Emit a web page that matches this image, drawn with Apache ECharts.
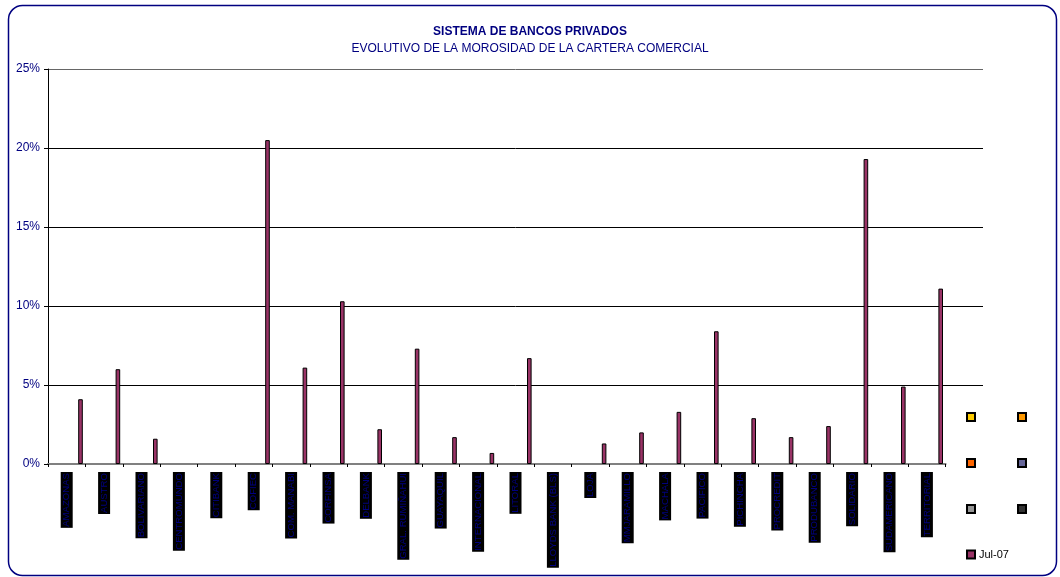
<!DOCTYPE html>
<html>
<head>
<meta charset="utf-8">
<script src="https://cdn.jsdelivr.net/npm/echarts@6/dist/echarts.min.js"></script>
<style>html,body{margin:0;padding:0;background:#fff;}#c{width:1060px;height:577px;}</style>
</head>
<body>
<div id="c"></div>
<script>
const categories = ['AMAZONAS','AUSTRO','BOLIVARIANO','CENTROMUNDO','CITIBANK','COFIEC','COM. MANABI','CORFINSA','DELBANK','GRAL. RUMIÑAHUI','GUAYAQUIL','INTERNACIONAL','LITORAL','LLOYDS BANK (BLS)','LOJA','MMJARAMILLO','MACHALA','PACIFICO','PICHINCHA','PROCREDIT','PRODUBANCO','SOLIDARIO','SUDAMERICANO','TERRITORIAL'];
const jul07 = [4.1, 6.0, 1.6, null, null, 20.5, 6.1, 10.3, 2.2, 7.3, 1.7, 0.7, 6.7, null, 1.3, 2.0, 3.3, 8.4, 2.9, 1.7, 2.4, 19.3, 4.9, 11.1];
const emptySeriesNames = ['s1','s2','s3','s4','s5','s6'];
const emptySeriesColors = ['#FFCC00','#FF9900','#FF6600','#666699','#969696','#333333'];
const yTicks = [0, 5, 10, 15, 20, 25];

const chart = echarts.init(document.getElementById('c'));
const font = 'Arial, "Liberation Sans", sans-serif';
const navy = '#000080';

const series = emptySeriesNames.map((n, i) => ({
  name: n, type: 'bar', data: [], barWidth: 4.6, barGap: '0%',
  itemStyle: { color: emptySeriesColors[i], borderColor: '#000', borderWidth: 1 }
}));
series.push({
  name: 'Jul-07', type: 'bar', data: jul07, barWidth: 4.6, barGap: '0%',
  itemStyle: { color: '#993366', borderColor: '#000', borderWidth: 1 }
});

// legend positions (two columns in the reference)
const legendPos = [
  ['s1', 961, 407], ['s2', 1012, 407],
  ['s3', 961, 453], ['s4', 1012, 453],
  ['s5', 961, 499], ['s6', 1012, 499],
  ['Jul-07', 961, 544]
];
const legends = legendPos.map(([n, x, y]) => ({
  data: [n], left: x, top: y, itemWidth: 8, itemHeight: 8, itemGap: 0,
  icon: 'rect', selectedMode: false,
  formatter: (name) => name === 'Jul-07' ? name : '',
  textStyle: { fontFamily: font, fontSize: 11, color: '#000', padding: [0, 0, 0, -1] }
}));

chart.setOption({
  animation: false,
  backgroundColor: '#fff',
  title: {
    text: 'SISTEMA DE BANCOS PRIVADOS',
    subtext: 'EVOLUTIVO DE LA MOROSIDAD DE LA CARTERA COMERCIAL',
    left: 'center', top: 21, itemGap: 5,
    textStyle: { fontFamily: font, fontSize: 12, fontWeight: 'bold', color: navy },
    subtextStyle: { fontFamily: font, fontSize: 12, color: navy }
  },
  legend: legends,
  grid: [
    { left: 48, top: 69, bottom: 113, width: 897.6 },
    { left: 48, top: 69, bottom: 113, right: 77 }
  ],
  xAxis: [
    {
      type: 'category', data: categories, gridIndex: 0,
      axisLine: { lineStyle: { color: '#808080', width: 2 } },
      axisTick: { show: true, length: 3, lineStyle: { color: '#000' } },
      axisLabel: {
        rotate: 90, interval: 0, margin: 8,
        fontFamily: font, fontSize: 9.6, color: navy,
        backgroundColor: '#000', lineHeight: 12, padding: [0, 1, 0, 1]
      }
    },
    { type: 'value', gridIndex: 1, show: false, min: 0, max: 1 }
  ],
  yAxis: [
    {
      type: 'value', gridIndex: 0, min: 0, max: 25, interval: 5,
      axisLine: { show: true, lineStyle: { color: '#000', width: 1 } },
      axisTick: { show: true, length: 4, lineStyle: { color: '#000' } },
      splitLine: { show: false },
      axisLabel: {
        formatter: (v) => yTicks.includes(v) ? v + '%' : '',
        fontFamily: font, fontSize: 12, color: navy, margin: 8
      }
    },
    {
      type: 'value', gridIndex: 1, min: 0, max: 25, interval: 5,
      axisLine: { show: false }, axisTick: { show: false }, axisLabel: { show: false },
      splitLine: { show: true, lineStyle: { color: ['transparent', '#000', '#000', '#000', '#000', '#666'], width: 1 } }
    }
  ],
  series: series,
  graphic: [
    {
      type: 'rect', z: 100, silent: true,
      shape: { x: 8.5, y: 5.5, width: 1048, height: 570, r: 14 },
      style: { fill: 'none', stroke: navy, lineWidth: 1.5 }
    }
  ]
});
</script>
</body>
</html>
